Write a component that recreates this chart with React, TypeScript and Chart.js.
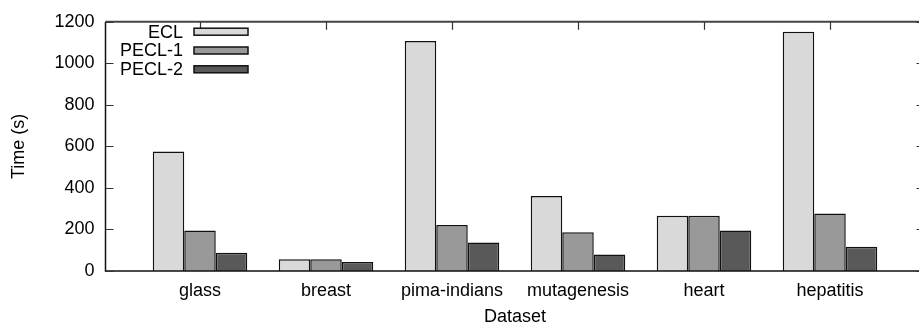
import React, { useEffect, useRef } from "react";
import { Chart, registerables } from "chart.js";

Chart.register(...registerables);

const categories = ["glass", "breast", "pima-indians", "mutagenesis", "heart", "hepatitis"];
const seriesNames = ["ECL", "PECL-1", "PECL-2"];
const eclValues = [575, 57, 1108, 361, 266, 1152];
const pecl1Values = [195, 57, 221, 187, 266, 277];
const pecl2Values = [88, 43, 137, 79, 195, 117];
const yTicks = [0, 200, 400, 600, 800, 1000, 1200];
const seriesColors = ["#d9d9d9", "#999999", "#595959"];

const FONT = '"Liberation Sans", Arial, Helvetica, sans-serif';
const FS = 18;

const frameAndLegend = {
  id: "frameAndLegend",
  afterDatasetsDraw(chart: any) {
    const { ctx, chartArea } = chart;
    const { left, right, top, bottom } = chartArea;
    const x = chart.scales.x;
    const y = chart.scales.y;
    ctx.save();
    ctx.strokeStyle = "#444";
    ctx.lineWidth = 2;
    ctx.beginPath();
    ctx.moveTo(left, top);
    ctx.lineTo(right, top);
    ctx.stroke();
    ctx.strokeStyle = "#111";
    ctx.lineWidth = 1.5;
    ctx.beginPath();
    ctx.moveTo(left, top);
    ctx.lineTo(left, bottom);
    ctx.lineTo(right, bottom);
    ctx.lineTo(right, top);
    ctx.stroke();
    ctx.strokeStyle = "#333";
    ctx.lineWidth = 1.2;
    yTicks.forEach((v) => {
      const py = Math.round(y.getPixelForValue(v)) + 0.5;
      ctx.beginPath();
      ctx.moveTo(left, py);
      ctx.lineTo(left + 8, py);
      ctx.moveTo(right, py);
      ctx.lineTo(right - 8, py);
      ctx.stroke();
    });
    categories.forEach((_, i) => {
      const px = Math.round(x.getPixelForValue(i)) + 0.5;
      ctx.beginPath();
      ctx.moveTo(px, top);
      ctx.lineTo(px, top + 8);
      ctx.stroke();
    });
    const textRight = 183;
    const boxLeft = 194;
    const boxW = 54;
    const boxH = 7;
    const rowY = [31.7, 50.5, 69.3];
    ctx.font = `${FS}px ${FONT}`;
    ctx.textAlign = "right";
    ctx.textBaseline = "middle";
    chart.data.datasets.forEach((ds: any, i: number) => {
      const cy = rowY[i];
      ctx.fillStyle = "#000";
      ctx.fillText(ds.label, textRight, cy + 1);
      ctx.fillStyle = ds.backgroundColor;
      ctx.fillRect(boxLeft, cy - boxH / 2, boxW, boxH);
      ctx.strokeStyle = "#111";
      ctx.lineWidth = 1.5;
      ctx.strokeRect(boxLeft, cy - boxH / 2, boxW, boxH);
    });
    ctx.restore();
  },
};

export default function App() {
  const ref = useRef<HTMLCanvasElement | null>(null);
  useEffect(() => {
    if (!ref.current) return;
    const seriesValues = [eclValues, pecl1Values, pecl2Values];
    const chart = new Chart(ref.current, {
      type: "bar",
      data: {
        datasets: seriesNames.map((name, si) => ({
          label: name,
          data: seriesValues[si].map((v, i) => ({ x: i, y: v })),
          backgroundColor: seriesColors[si],
          borderColor: "#111",
          borderWidth: 1.5,
          categoryPercentage: 0.75,
          barPercentage: 1,
        })),
      },
      options: {
        responsive: false,
        animation: false,
        layout: { padding: { left: 0, right: 15.5, top: 14, bottom: 0 } },
        plugins: { legend: { display: false }, tooltip: { enabled: false } },
        scales: {
          x: {
            type: "linear",
            min: -0.75,
            max: 5.75,
            offset: false,
            grid: { display: false, drawTicks: false },
            border: { display: false },
            afterBuildTicks: (axis: any) => {
              axis.ticks = categories.map((_, i) => ({ value: i }));
            },
            afterFit: (axis: any) => {
              axis.height = 58;
            },
            ticks: {
              autoSkip: false,
              maxRotation: 0,
              padding: 9,
              color: "#000",
              font: { family: FONT, size: FS },
              callback: (v: any) => categories[Math.round(Number(v))] ?? "",
            },
            title: {
              display: true,
              text: "Dataset",
              color: "#000",
              font: { family: FONT, size: FS },
              padding: { top: 0, bottom: 1 },
            },
          },
          y: {
            min: 0,
            max: 1200,
            grid: { display: false, drawTicks: false },
            border: { display: false },
            afterBuildTicks: (axis: any) => {
              axis.ticks = yTicks.map((v) => ({ value: v }));
            },
            afterFit: (axis: any) => {
              axis.width = 105.5;
            },
            ticks: {
              padding: 11,
              color: "#000",
              font: { family: FONT, size: FS },
              callback: (v: any) => String(v),
            },
            title: {
              display: true,
              text: "Time (s)",
              color: "#000",
              font: { family: FONT, size: FS },
              padding: { top: 8, bottom: 0 },
            },
          },
        },
      },
      plugins: [frameAndLegend],
    } as any);
    return () => chart.destroy();
  }, []);
  return (
    <div style={{ position: "absolute", left: 0, top: 0, width: 919, height: 329, overflow: "hidden", background: "#fff" }}>
      <canvas ref={ref} width={940} height={329} style={{ width: 940, height: 329, display: "block" }} />
    </div>
  );
}
